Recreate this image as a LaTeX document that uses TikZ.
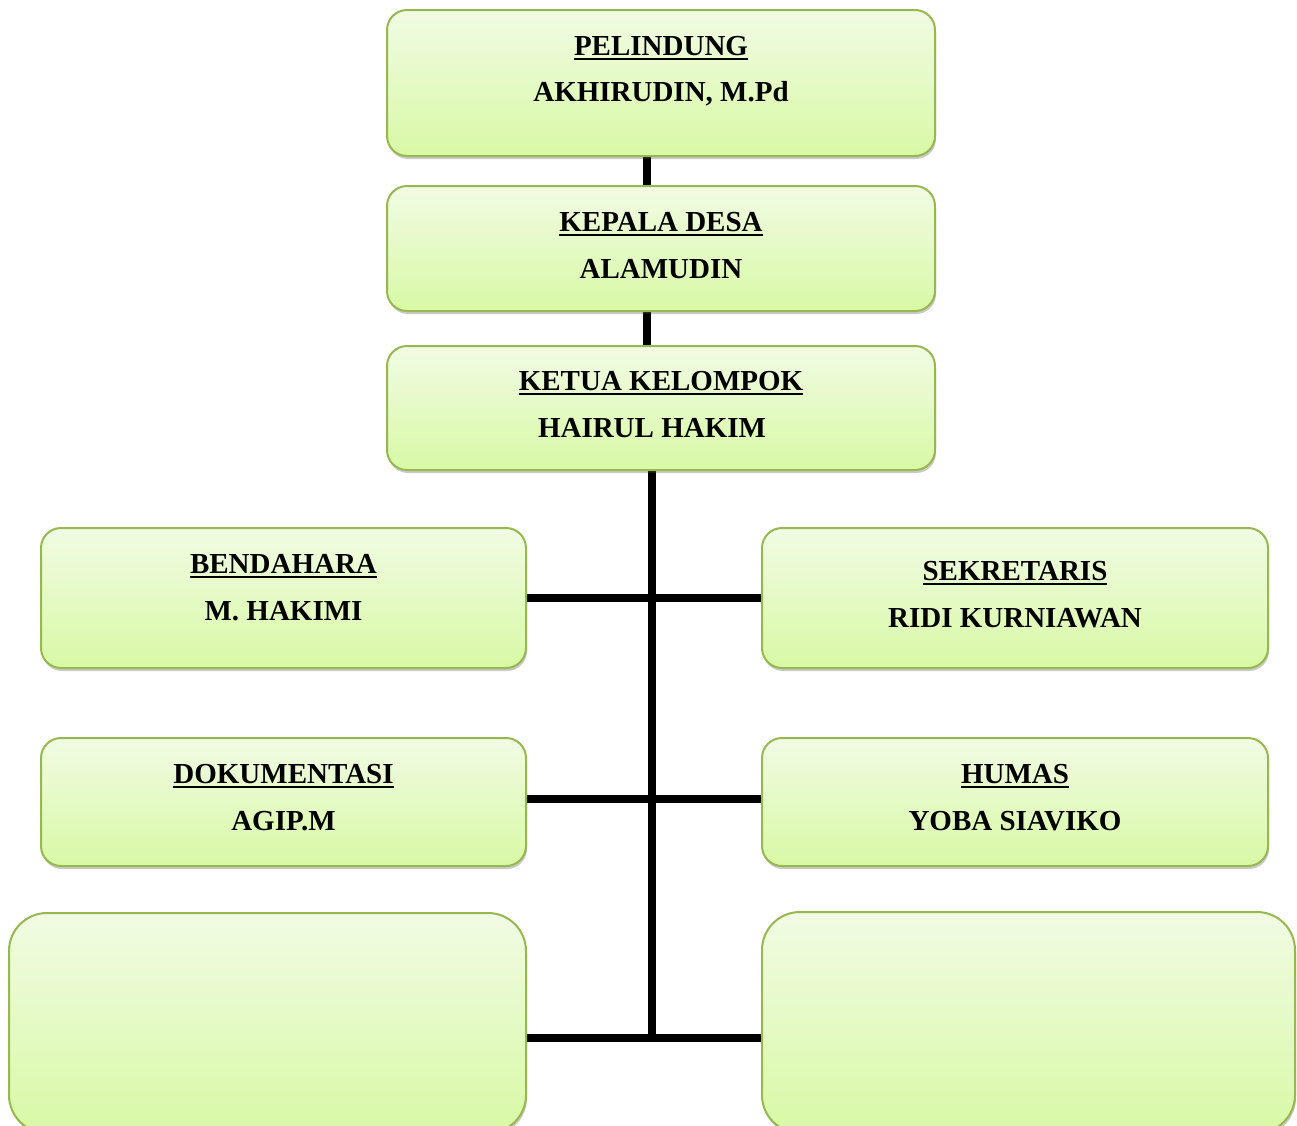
\documentclass[tikz,border=0pt]{standalone}
\usepackage{fontspec}
\setmainfont{Liberation Serif}
\usetikzlibrary{shadows,backgrounds,calc}
\definecolor{boxline}{HTML}{96B84F}
\definecolor{boxtop}{HTML}{F1FBE4}
\definecolor{boxbot}{HTML}{D8F9A5}
\newcommand\ulbox[1]{\setbox0\hbox{#1}\rlap{\rule[-5pt]{\wd0}{2.4pt}}\box0}
\tikzset{
  orgbox/.style={draw=boxline, line width=2pt, rounded corners=20pt,
    top color=boxtop, bottom color=boxbot, inner sep=0pt,
    drop shadow={shadow xshift=1pt, shadow yshift=-3pt, opacity=0.3, fill=black!70}},
  bigbox/.style={orgbox, rounded corners=38pt},
  lbl/.style={anchor=base, inner sep=0pt, font=\fontsize{29}{34}\selectfont\bfseries},
  conn/.style={line width=8pt, black}
}
\begin{document}
\begin{tikzpicture}[x=1pt,y=-1pt]
\useasboundingbox (0,0) rectangle (1297,1125);
% boxes
\node[orgbox, minimum width=548pt, minimum height=146pt] (pel) at (661,83) {};
\node[orgbox, minimum width=548pt, minimum height=125pt] (kep) at (661,248.5) {};
\node[orgbox, minimum width=548pt, minimum height=124pt] (ket) at (661,408) {};
\node[orgbox, minimum width=485pt, minimum height=140pt] (bend) at (283.5,598) {};
\node[orgbox, minimum width=506pt, minimum height=140pt] (sek) at (1015,598) {};
\node[orgbox, minimum width=485pt, minimum height=128pt] (dok) at (283.5,802) {};
\node[orgbox, minimum width=506pt, minimum height=128pt] (hum) at (1015,802) {};
\node[bigbox, minimum width=517pt, minimum height=220pt] (lb) at (267.5,1023) {};
\node[bigbox, minimum width=533pt, minimum height=221pt] (rb) at (1028.5,1022.5) {};
% labels
\node[lbl] (pelT) at (661,55) {\ulbox{PELINDUNG}};
\node[lbl] (pelN) at (661,101) {AKHIRUDIN, M.Pd};
\node[lbl] (kepT) at (661,231) {\ulbox{KEPALA DESA}};
\node[lbl] (kepN) at (661,278) {ALAMUDIN};
\node[lbl] (ketT) at (661,390) {\ulbox{KETUA KELOMPOK}};
\node[lbl] (ketN) at (652,437) {HAIRUL HAKIM};
\node[lbl] (bendT) at (283.5,573) {\ulbox{BENDAHARA}};
\node[lbl] (bendN) at (283.5,620) {M. HAKIMI};
\node[lbl] (sekT) at (1015,580) {\ulbox{SEKRETARIS}};
\node[lbl] (sekN) at (1015,627) {RIDI KURNIAWAN};
\node[lbl] (dokT) at (283.5,783) {\ulbox{DOKUMENTASI}};
\node[lbl] (dokN) at (283.5,830) {AGIP.M};
\node[lbl] (humT) at (1015,783) {\ulbox{HUMAS}};
\node[lbl] (humN) at (1015,830) {YOBA SIAVIKO};
% connectors
\coordinate (jb) at (652,1038);
\begin{pgfonlayer}{background}
\draw[conn] ([xshift=-14pt]pel.south) -- ([xshift=-14pt]kep.north);
\draw[conn] ([xshift=-14pt]kep.south) -- ([xshift=-14pt]ket.north);
\draw[conn] ([xshift=-9pt]ket.south) -- ([yshift=-4pt]jb);
\draw[conn] (bend.east) -- (sek.west);
\draw[conn] ([yshift=3pt]dok.east) -- ([yshift=3pt]hum.west);
\draw[conn] (lb.east |- jb) -- (rb.west |- jb);
\end{pgfonlayer}
\end{tikzpicture}
\end{document}
